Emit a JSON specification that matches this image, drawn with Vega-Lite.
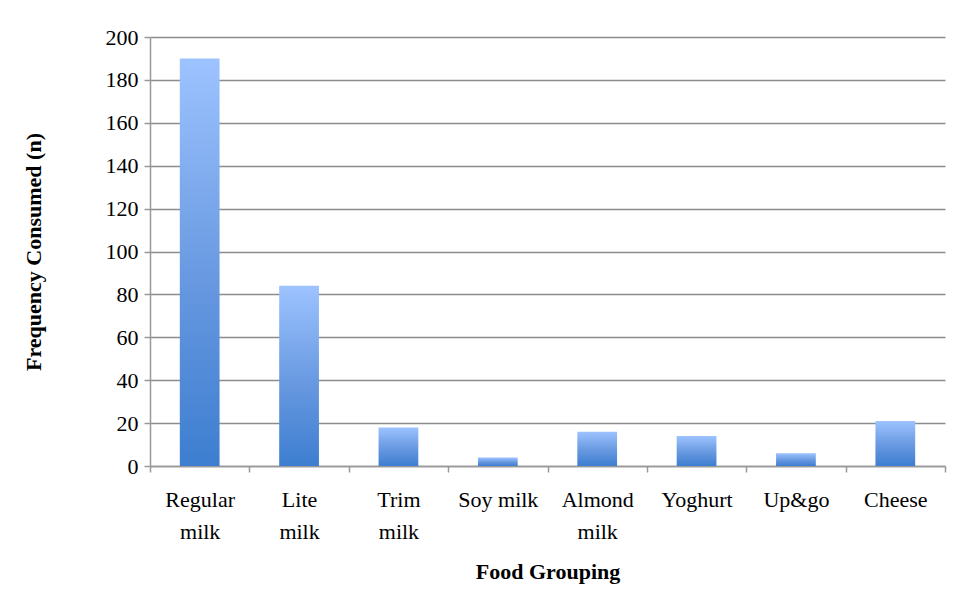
{
  "$schema": "https://vega.github.io/schema/vega-lite/v6.json",
  "autosize": "none",
  "width": 795,
  "height": 429,
  "padding": {"left": 150, "top": 37, "right": 19, "bottom": 149},
  "background": "white",
  "data": {
    "values": [
      {"food": "Regular milk", "n": 190},
      {"food": "Lite milk", "n": 84},
      {"food": "Trim milk", "n": 18},
      {"food": "Soy milk", "n": 4},
      {"food": "Almond milk", "n": 16},
      {"food": "Yoghurt", "n": 14},
      {"food": "Up&go", "n": 6},
      {"food": "Cheese", "n": 21}
    ]
  },
  "mark": {
    "type": "bar",
    "width": {"band": 0.4},
    "color": {
      "gradient": "linear",
      "x1": 0, "y1": 0, "x2": 0, "y2": 1,
      "stops": [
        {"offset": 0, "color": "#9DC3FF"},
        {"offset": 0.55, "color": "#6798E0"},
        {"offset": 1, "color": "#3D7ED0"}
      ]
    }
  },
  "encoding": {
    "x": {
      "field": "food",
      "type": "nominal",
      "sort": null,
      "scale": {"paddingInner": 0, "paddingOuter": 0},
      "axis": {
        "title": "Food Grouping",
        "labelAngle": 0,
        "labelExpr": "datum.label == 'Soy milk' ? datum.label : split(datum.label, ' ')",
        "labelLineHeight": 32,
        "labelPadding": 17,
        "labelOverlap": false,
        "tickBand": "extent",
        "titlePadding": 19
      }
    },
    "y": {
      "field": "n",
      "type": "quantitative",
      "scale": {"domain": [0, 200]},
      "axis": {
        "title": "Frequency Consumed (n)",
        "values": [0, 20, 40, 60, 80, 100, 120, 140, 160, 180, 200],
        "labelOverlap": false,
        "labelPadding": 6,
        "titlePadding": 60
      }
    }
  },
  "config": {
    "font": "Liberation Serif",
    "view": {"stroke": null},
    "axis": {
      "labelFont": "Liberation Serif",
      "labelFontSize": 22,
      "labelColor": "black",
      "titleFont": "Liberation Serif",
      "titleFontSize": 22,
      "titleFontWeight": "bold",
      "titleColor": "black",
      "domainColor": "#999999",
      "domainWidth": 1.5,
      "tickColor": "#999999",
      "tickWidth": 1.5,
      "tickSize": 6,
      "gridColor": "#8c8c8c",
      "gridWidth": 1.5
    },
    "axisX": {"grid": false},
    "axisY": {"grid": true}
  }
}
